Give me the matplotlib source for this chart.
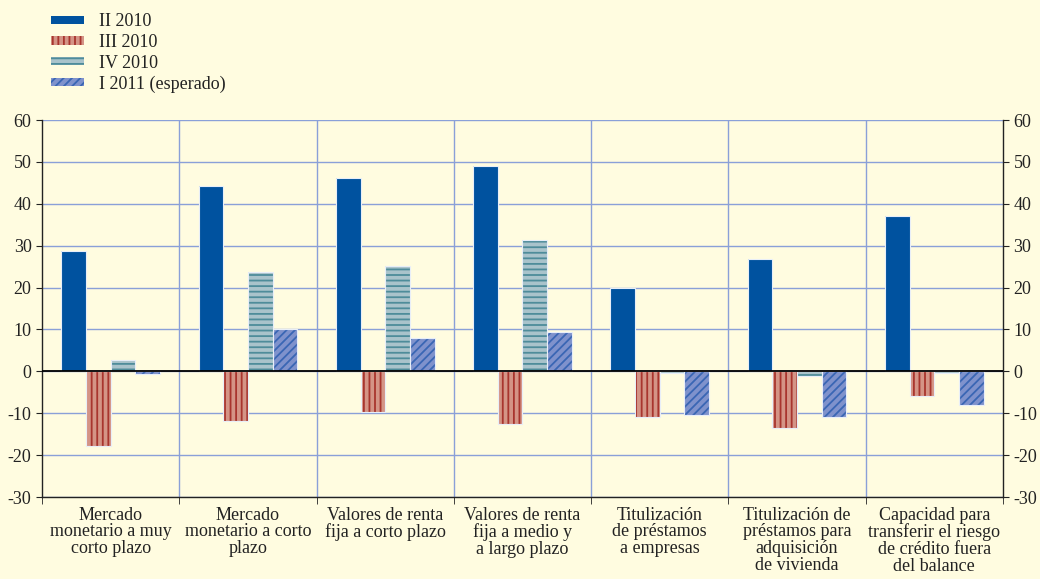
import numpy as np
import matplotlib.pyplot as plt
from matplotlib.patches import Patch

plt.rcParams['font.family'] = ['Liberation Serif', 'DejaVu Serif']
plt.rcParams['hatch.linewidth'] = 1.3
plt.rcParams['axes.unicode_minus'] = False

# Datos
categorias = [
    "Mercado\nmonetario a muy\ncorto plazo",
    "Mercado\nmonetario a corto\nplazo",
    "Valores de renta\nfija a corto plazo\n",
    "Valores de renta\nfija a medio y\na largo plazo",
    "Titulización\nde préstamos\na empresas",
    "Titulización de\npréstamos para\nadquisición\nde vivienda",
    "Capacidad para\ntransferir el riesgo\nde crédito fuera\ndel balance",
]
series = ["II 2010", "III 2010", "IV 2010", "I 2011 (esperado)"]
ii_2010 = [28.7, 44.3, 46.2, 49.0, 20.0, 26.8, 37.0]
iii_2010 = [-17.8, -11.8, -9.8, -12.5, -11.0, -13.5, -6.0]
iv_2010 = [2.8, 23.8, 25.2, 31.3, -0.5, -1.0, -0.5]
i_2011 = [-0.7, 10.2, 8.0, 9.5, -10.5, -11.0, -8.0]

valores = [ii_2010, iii_2010, iv_2010, i_2011]
relleno = ['#00529f', '#d49486', '#a9c3cb', '#7f92cc']
trama = [None, '|||', '---', '////']
color_trama = ['#00529f', '#a8352e', '#4e8c9a', '#3a66b4']

fondo = '#fffce0'
rejilla = '#8aa0d8'

fig = plt.figure(figsize=(10.4, 5.79), dpi=100, facecolor=fondo)
ax = fig.add_axes([0.0404, 0.1416, 0.924, 0.6511], facecolor=fondo)

x = np.arange(len(categorias))
ancho = 0.18
for i, (vals, fc, h, hc) in enumerate(zip(valores, relleno, trama, color_trama)):
    pos = x + (i - 1.5) * ancho
    ax.bar(pos, vals, ancho, color=fc, hatch=h, edgecolor=hc, linewidth=0, zorder=3)
    ax.bar(pos, vals, ancho, fill=False, edgecolor='#e8eef8', linewidth=0.8, zorder=4)

ax.axhline(0, color='black', linewidth=1.3, zorder=5)

ax.set_xlim(-0.5, len(categorias) - 0.5)
ax.set_ylim(-30, 60)
ax.set_yticks(range(-30, 61, 10))
ax.yaxis.grid(True, color=rejilla, linewidth=1, zorder=0)
for b in np.arange(0.5, len(categorias) - 0.5, 1):
    ax.axvline(b, color=rejilla, linewidth=1, zorder=0)

ax.set_xticks(x)
ax.set_xticklabels(categorias, fontsize=13, linespacing=0.98, va='top', color='#222222')
ax.tick_params(axis='x', which='major', length=0, pad=7)
ax.set_xticks(np.arange(-0.5, len(categorias), 1), minor=True)
ax.tick_params(axis='x', which='minor', length=5, direction='out', color='#222222')

ax.tick_params(axis='y', labelsize=13, length=4, direction='out', color='#222222',
               right=True, labelright=True, colors='#222222')
ax.spines['top'].set_visible(False)
for s in ['left', 'right', 'bottom']:
    ax.spines[s].set_color('#222222')
    ax.spines[s].set_linewidth(1)

handles = [Patch(facecolor=fc, hatch=h, edgecolor=hc, linewidth=0)
           for fc, h, hc in zip(relleno, trama, color_trama)]
fig.legend(handles, series, loc='upper left', bbox_to_anchor=(0.033, 1.005),
           frameon=False, fontsize=13, handlelength=1.85, handleheight=0.35,
           labelspacing=0.2, handletextpad=0.85, labelcolor='#222222')

fig.savefig('out.png', dpi=100, facecolor=fondo)
